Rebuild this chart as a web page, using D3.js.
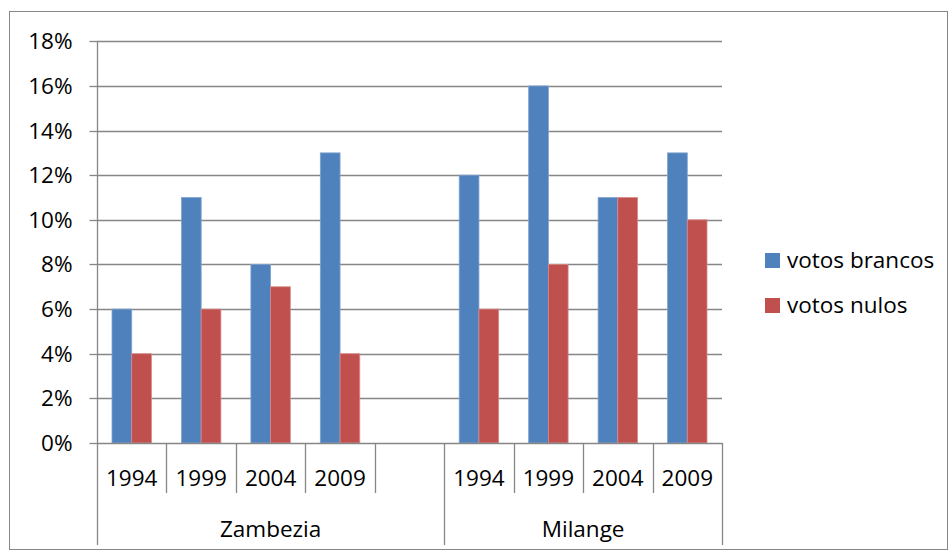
<!DOCTYPE html>
<html>
<head>
<meta charset="utf-8">
<script src="https://cdn.jsdelivr.net/npm/d3@7"></script>
<style>
  body { margin: 0; background: #fff; }
  svg { display: block; font-family: "Open Sans", Lato, sans-serif; }
</style>
</head>
<body>
<svg id="chart" width="951" height="552"></svg>
<script>
// Regions and election years on the category axis
const regions = ["Zambezia", "Milange"];
const regionYears = [
  ["1994", "1999", "2004", "2009", ""],   // Zambezia keeps one empty slot
  ["1994", "1999", "2004", "2009"]
];
// Share of blank and null votes (%) per slot, same order as the slots
const votosBrancos = [6, 11, 8, 13, null, 12, 16, 11, 13];
const votosNulos   = [4, 6, 7, 4, null, 6, 8, 11, 10];
const seriesNames = ["votos brancos", "votos nulos"];
const seriesColors = ["#4F81BD", "#C0504D"];
const yTicks = [0, 2, 4, 6, 8, 10, 12, 14, 16, 18];

const svg = d3.select("#chart");
const gridColor = "#868686";
const fontSize = 22.5;

// Outer chart frame
svg.append("rect")
  .attr("x", 9.5).attr("y", 11.5).attr("width", 938).attr("height", 538)
  .attr("fill", "none").attr("stroke", gridColor).attr("stroke-width", 1);

const plot = { left: 97, right: 722, top: 41.3, bottom: 443 };
const px = v => Math.round(v) + 0.5;

// Build slot keys
const slots = [];
regionYears.forEach((yrs, ri) => yrs.forEach((yr, i) => slots.push({ region: regions[ri], year: yr, key: ri + "-" + i })));

const x = d3.scaleBand()
  .domain(slots.map(s => s.key))
  .range([plot.left, plot.right])
  .paddingInner(0.432)
  .paddingOuter(0.216);
const step = x.step();

const y = d3.scaleLinear().domain([0, 18]).range([plot.bottom, plot.top]);

// Horizontal gridlines
svg.append("g").selectAll("line").data(yTicks.slice(1)).join("line")
  .attr("x1", plot.left).attr("x2", plot.right)
  .attr("y1", d => px(y(d))).attr("y2", d => px(y(d)))
  .attr("stroke", gridColor).attr("stroke-width", 1.3);

// Value axis
const yAxis = d3.axisLeft(y).tickValues(yTicks).tickFormat(d => d + "%").tickSize(8).tickPadding(17);
const gy = svg.append("g").attr("transform", `translate(${px(plot.left)},0)`).call(yAxis);
gy.select(".domain").remove();
gy.selectAll(".tick").attr("transform", d => `translate(0,${px(y(d))})`);
gy.selectAll(".tick line").attr("stroke", gridColor).attr("stroke-width", 1.3);
gy.selectAll(".tick text").attr("font-size", fontSize).attr("fill", "#000")
  .attr("font-family", "'Open Sans', sans-serif");

// Bars
const inner = d3.scaleBand().domain([0, 1]).range([0, x.bandwidth()]);
const barData = [];
slots.forEach((s, i) => {
  [votosBrancos[i], votosNulos[i]].forEach((v, si) => {
    if (v != null) barData.push({ key: s.key, series: si, value: v });
  });
});
svg.append("g").selectAll("rect").data(barData).join("rect")
  .attr("x", d => x(d.key) + inner(d.series))
  .attr("width", inner.bandwidth())
  .attr("y", d => y(d.value))
  .attr("height", d => y(0) - y(d.value))
  .attr("fill", d => seriesColors[d.series])
  .attr("stroke", d => d.series === 0 ? "#7FA3D0" : "#D88A88")
  .attr("stroke-width", 0.8);

// Category axis baseline
svg.append("line")
  .attr("x1", plot.left).attr("x2", plot.right)
  .attr("y1", px(plot.bottom)).attr("y2", px(plot.bottom))
  .attr("stroke", gridColor).attr("stroke-width", 1.3);

// Dividers between year slots and between regions (first one is the value axis line)
const boundaries = d3.range(slots.length + 1).map(i => plot.left + i * step);
let idx = 0;
const regionEdges = [0];
regionYears.forEach(yrs => { idx += yrs.length; regionEdges.push(idx); });
svg.append("g").selectAll("line").data(boundaries.map((b, i) => ({ b, i }))).join("line")
  .attr("x1", d => px(d.b)).attr("x2", d => px(d.b))
  .attr("y1", d => d.i === 0 ? plot.top : plot.bottom)
  .attr("y2", d => regionEdges.includes(d.i) ? 545 : 493)
  .attr("stroke", gridColor).attr("stroke-width", 1.3);

// Year labels
svg.append("g").selectAll("text").data(slots.filter(s => s.year)).join("text")
  .attr("x", d => x(d.key) + x.bandwidth() / 2)
  .attr("y", 486)
  .attr("text-anchor", "middle")
  .attr("font-size", fontSize)
  .text(d => d.year);

// Region labels
svg.append("g").selectAll("text").data(regions.map((r, i) => ({ r, i }))).join("text")
  .attr("x", d => (boundaries[regionEdges[d.i]] + boundaries[regionEdges[d.i + 1]]) / 2)
  .attr("y", 537)
  .attr("text-anchor", "middle")
  .attr("font-size", fontSize)
  .text(d => d.r);

// Legend
const legend = svg.append("g").selectAll("g").data(seriesNames).join("g")
  .attr("transform", (d, i) => `translate(765,${253 + i * 45})`);
legend.append("rect").attr("width", 15).attr("height", 15)
  .attr("fill", (d, i) => seriesColors[i]);
legend.append("text").attr("x", 22).attr("y", 15).attr("font-size", fontSize).text(d => d);
</script>
</body>
</html>
